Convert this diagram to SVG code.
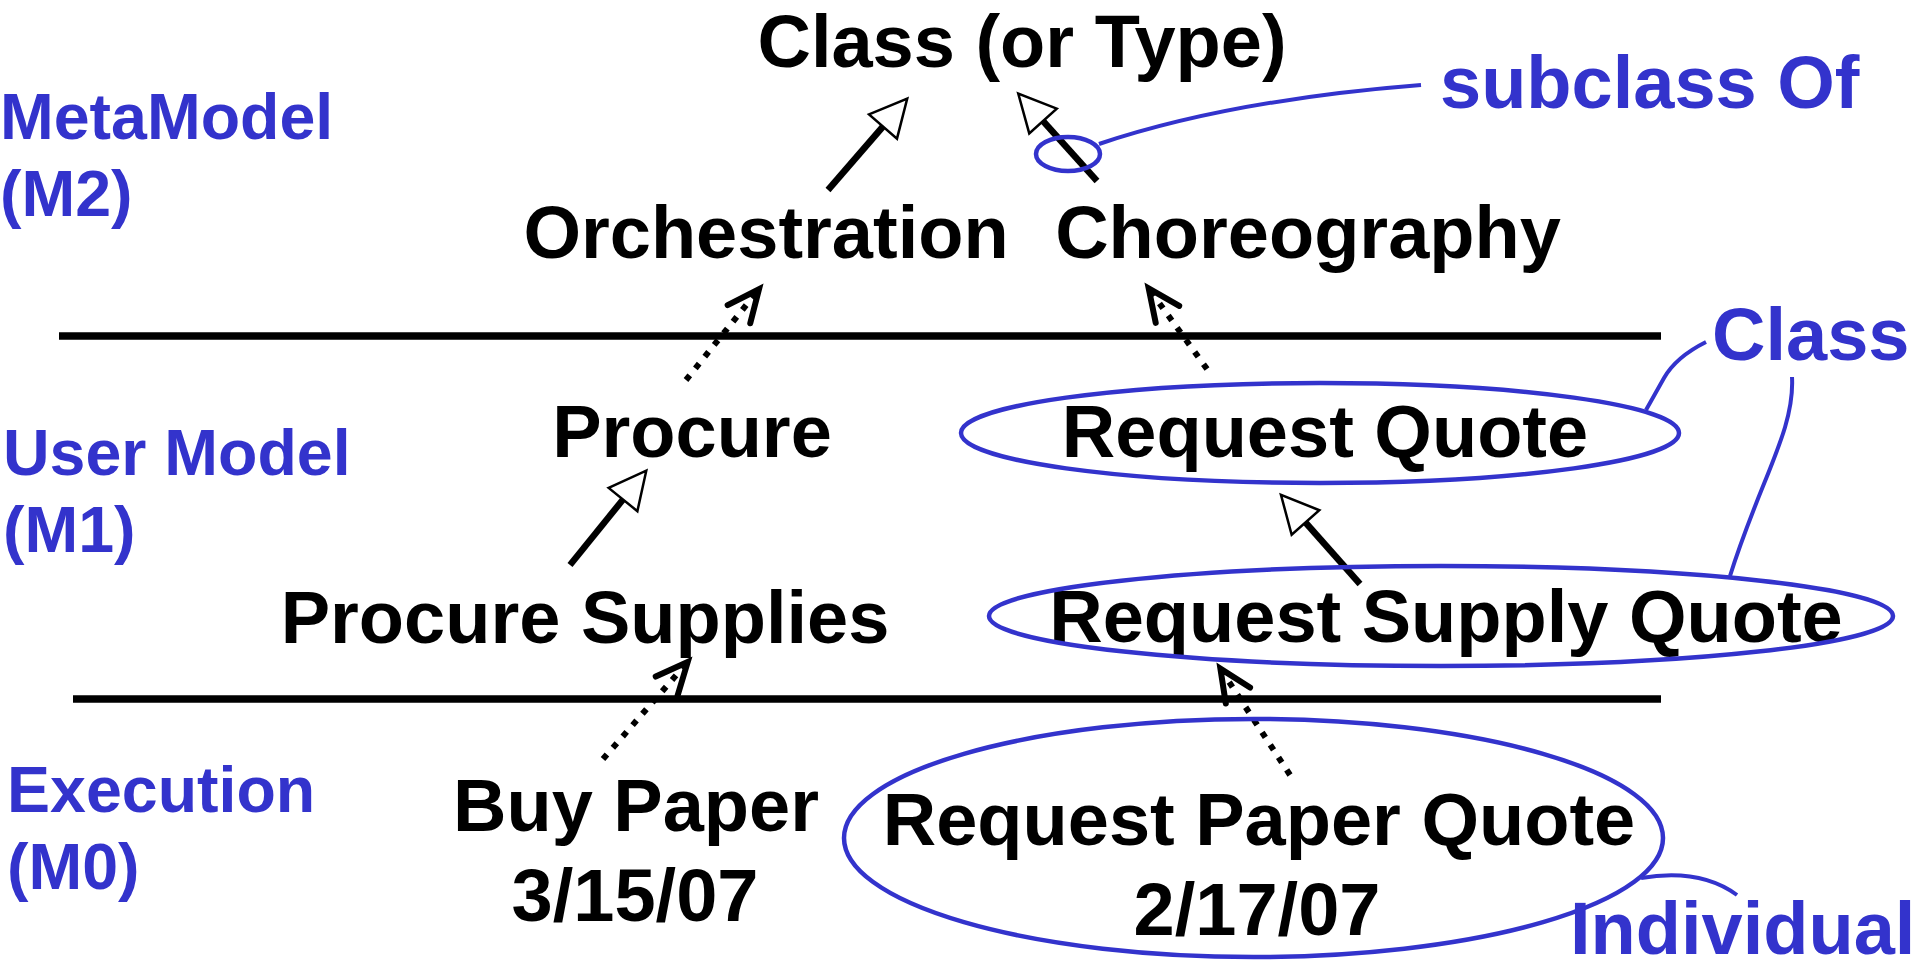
<svg xmlns="http://www.w3.org/2000/svg" width="1915" height="971" viewBox="0 0 1915 971">
  <style>
    text { font-family: "Liberation Sans", Arial, sans-serif; font-weight: bold; }
    .node { font-size: 74px; fill: #000; }
    .level { font-size: 64.5px; fill: #3333CC; }
    .note { font-size: 74px; fill: #3333CC; }
    .sep { stroke: #000; stroke-width: 7.5; }
    .gen { fill: none; stroke: #000; stroke-width: 6.5; marker-end: url(#hollow); }
    .inst { fill: none; stroke: #000; stroke-width: 6; stroke-dasharray: 6 9; marker-end: url(#open); }
    .ring { fill: none; stroke: #3333CC; stroke-width: 4.5; }
    .lead { fill: none; stroke: #3333CC; stroke-width: 4; }
  </style>
  <defs>
    <!-- hollow triangle: subclass-of (generalization) -->
    <marker id="hollow" markerUnits="userSpaceOnUse" refX="0" refY="0" orient="auto" overflow="visible">
      <path d="M0,-18.5 L37,0 L0,18.5 Z" fill="#fff" stroke="#000" stroke-width="2.5" stroke-linejoin="miter"/>
    </marker>
    <!-- open V head: instance-of -->
    <marker id="open" markerUnits="userSpaceOnUse" refX="0" refY="0" orient="auto" overflow="visible">
      <path d="M-32,-14.5 L0,0 L-32,14.5" fill="none" stroke="#000" stroke-width="6" stroke-linecap="round" stroke-linejoin="miter"/>
    </marker>
  </defs>

  <rect width="1915" height="971" fill="#fff"/>

  <!-- level separators -->
  <g id="separators">
    <line class="sep" x1="59" y1="336" x2="1661" y2="336"/>
    <line class="sep" x1="73" y1="699" x2="1661" y2="699"/>
  </g>

  <!-- level names -->
  <g id="level-m2">
    <text class="level" x="0" y="139">MetaModel</text>
    <text class="level" x="0" y="216">(M2)</text>
  </g>
  <g id="level-m1">
    <text class="level" x="3" y="475">User Model</text>
    <text class="level" x="3" y="552">(M1)</text>
  </g>
  <g id="level-m0">
    <text class="level" x="7" y="812">Execution</text>
    <text class="level" x="7" y="889">(M0)</text>
  </g>

  <!-- model elements -->
  <g id="class-type"><text class="node" x="1022" y="67" text-anchor="middle">Class (or Type)</text></g>
  <g id="orchestration"><text class="node" x="766" y="258" text-anchor="middle">Orchestration</text></g>
  <g id="choreography"><text class="node" x="1308" y="258" text-anchor="middle">Choreography</text></g>
  <g id="procure"><text class="node" x="692" y="457" text-anchor="middle">Procure</text></g>
  <g id="request-quote"><text class="node" x="1325" y="457" text-anchor="middle">Request Quote</text></g>
  <g id="procure-supplies"><text class="node" x="585" y="643" text-anchor="middle">Procure Supplies</text></g>
  <g id="request-supply-quote"><text class="node" x="1446" y="642" text-anchor="middle">Request Supply Quote</text></g>
  <g id="buy-paper">
    <text class="node" x="636" y="831" text-anchor="middle">Buy Paper</text>
    <text class="node" x="635" y="921" text-anchor="middle">3/15/07</text>
  </g>
  <g id="request-paper-quote">
    <text class="node" x="1259" y="845" text-anchor="middle">Request Paper Quote</text>
    <text class="node" x="1257" y="935" text-anchor="middle">2/17/07</text>
  </g>

  <!-- connectors -->
  <g id="connectors">
    <!-- subclass of -->
    <path class="gen" d="M828,190 L883,126.5"/>
    <path class="gen" d="M1097,181 L1043,121"/>
    <path class="gen" d="M570,565 L623,499.5"/>
    <path class="gen" d="M1360,584 L1305.5,522.5"/>
    <!-- instance of -->
    <path class="inst" d="M686,380 L759,289.2"/>
    <path class="inst" d="M1207,369 L1148.7,288.5"/>
    <path class="inst" d="M603,759 L687.7,662"/>
    <path class="inst" d="M1290,775 L1220.4,668.7"/>
  </g>

  <!-- callouts -->
  <g id="note-subclass">
    <ellipse class="ring" cx="1068" cy="154" rx="32" ry="17"/>
    <path class="lead" d="M1099,144 Q1230,100 1421,85"/>
    <text class="note" x="1440" y="108">subclass Of</text>
  </g>
  <g id="note-class">
    <ellipse class="ring" cx="1320" cy="433" rx="359" ry="50"/>
    <ellipse class="ring" cx="1441" cy="616" rx="452" ry="50"/>
    <path class="lead" d="M1646,410 L1664,378 Q1676,357 1706,342"/>
    <path class="lead" d="M1730,576 C1760,480 1795,430 1792,377"/>
    <text class="note" x="1712" y="360">Class</text>
  </g>
  <g id="note-individual">
    <ellipse class="ring" cx="1253.5" cy="838" rx="409.5" ry="119"/>
    <path class="lead" d="M1641,878 Q1700,868 1737,895"/>
    <text class="note" x="1570" y="954" font-size="71">Individual</text>
  </g>
</svg>
